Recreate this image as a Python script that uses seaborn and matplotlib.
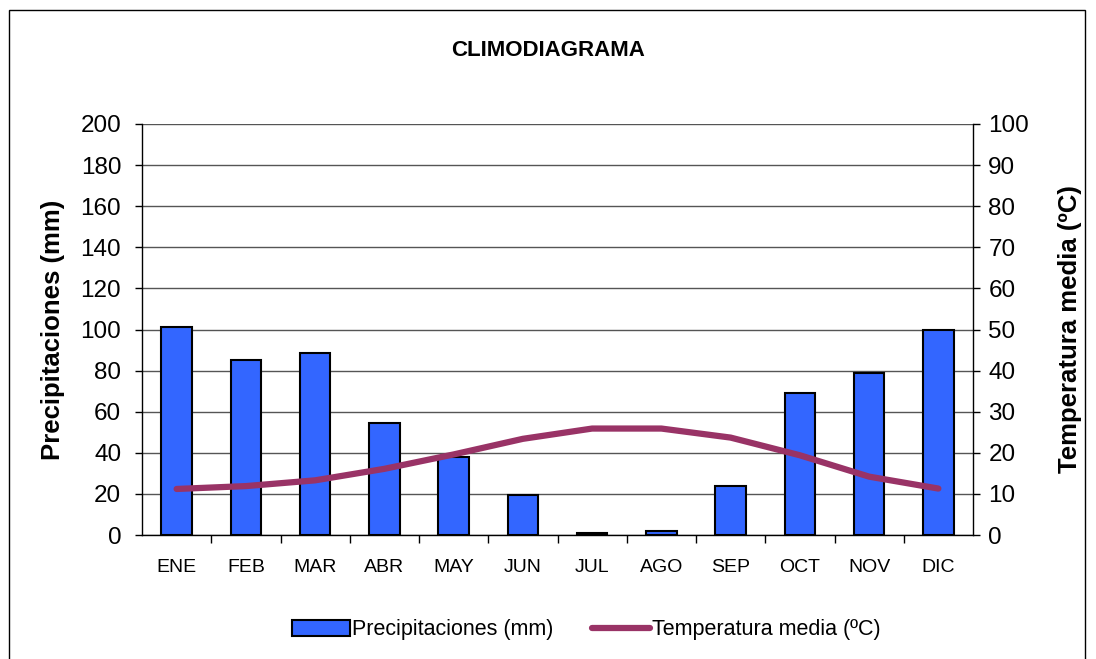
import numpy as np
import pandas as pd
import seaborn as sns
import matplotlib.pyplot as plt
from matplotlib.patches import Rectangle, Patch
from matplotlib.lines import Line2D

meses = ['ENE', 'FEB', 'MAR', 'ABR', 'MAY', 'JUN', 'JUL', 'AGO', 'SEP', 'OCT', 'NOV', 'DIC']
precipitaciones = [101, 85, 88.5, 54.5, 38, 19.5, 1, 2, 24, 69, 79, 100]
temperatura = [11.2, 11.9, 13.3, 16.1, 19.6, 23.4, 25.9, 25.9, 23.7, 19.4, 14.2, 11.3]

df = pd.DataFrame({'mes': meses, 'prec': precipitaciones, 'temp': temperatura})

sns.set_style('white')
plt.rcParams['font.family'] = ['Liberation Sans', 'DejaVu Sans']
plt.rcParams['text.color'] = 'black'
plt.rcParams['axes.labelcolor'] = 'black'
plt.rcParams['xtick.color'] = 'black'
plt.rcParams['ytick.color'] = 'black'

bar_color = '#3366FF'
line_color = '#993366'

fig = plt.figure(figsize=(10.96, 6.59), dpi=100)
ax = fig.add_axes([142/1096, 1 - 535/659, 831/1096, 411/659])

sns.barplot(data=df, x='mes', y='prec', color=bar_color, width=0.44,
            edgecolor='black', linewidth=1.5, saturation=1, ax=ax, zorder=3)
ax.set_ylim(0, 200)
ax.set_xlim(-0.5, 11.5)
ax.set_yticks(range(0, 201, 20))
ax.yaxis.grid(True, color='#555555', linewidth=1)
ax.set_axisbelow(True)

ax2 = ax.twinx()
sns.lineplot(data=df, x='mes', y='temp', color=line_color, linewidth=4.5,
             ax=ax2, zorder=4)
ax2.set_ylim(0, 100)
ax2.set_yticks(range(0, 101, 10))
ax2.set_xlim(-0.5, 11.5)

for a in (ax, ax2):
    for s in a.spines.values():
        s.set_visible(False)
ax.spines['left'].set_visible(True)
ax.spines['bottom'].set_visible(True)
ax2.spines['right'].set_visible(True)
for s in (ax.spines['left'], ax.spines['bottom'], ax2.spines['right']):
    s.set_color('black')
    s.set_linewidth(1)

ax.tick_params(axis='y', direction='out', length=5, width=1, labelsize=17.5, left=True, pad=10)
ax2.tick_params(axis='y', direction='out', length=5, width=1, labelsize=17.5, right=True, pad=6)
ax.set_xticks(range(len(meses)))
ax.set_xticklabels(meses)
ax.tick_params(axis='x', which='major', length=0, labelsize=14, pad=17)
ax.set_xticks(np.arange(0.5, len(meses) - 0.5, 1), minor=True)
ax.tick_params(axis='x', which='minor', direction='out', length=6, width=1, bottom=True)

ax.set_xlabel('')
ax.set_ylabel('Precipitaciones (mm)', fontsize=18.5, fontweight='bold', labelpad=11)
ax2.set_ylabel('Temperatura media (ºC)', fontsize=18.5, fontweight='bold', labelpad=21)

fig.text(0.5, 1 - 50/659, 'CLIMODIAGRAMA', ha='center', va='center',
         fontsize=16, fontweight='bold')

handles = [Patch(facecolor=bar_color, edgecolor='black', linewidth=1.5),
           Line2D([0], [0], color=line_color, linewidth=4.5)]
fig.legend(handles, ['Precipitaciones (mm)', 'Temperatura media (ºC)'],
           loc='center', bbox_to_anchor=(0.535, 1 - 630/659), ncol=2, frameon=False,
           fontsize=15.5, handlelength=2.7, handletextpad=0.1, columnspacing=1.8)

fig.patches.append(Rectangle((9/1096, -10/659), 1076/1096, 659/659, transform=fig.transFigure,
                             fill=False, edgecolor='black', linewidth=1))

fig.savefig('out.png', dpi=100)
